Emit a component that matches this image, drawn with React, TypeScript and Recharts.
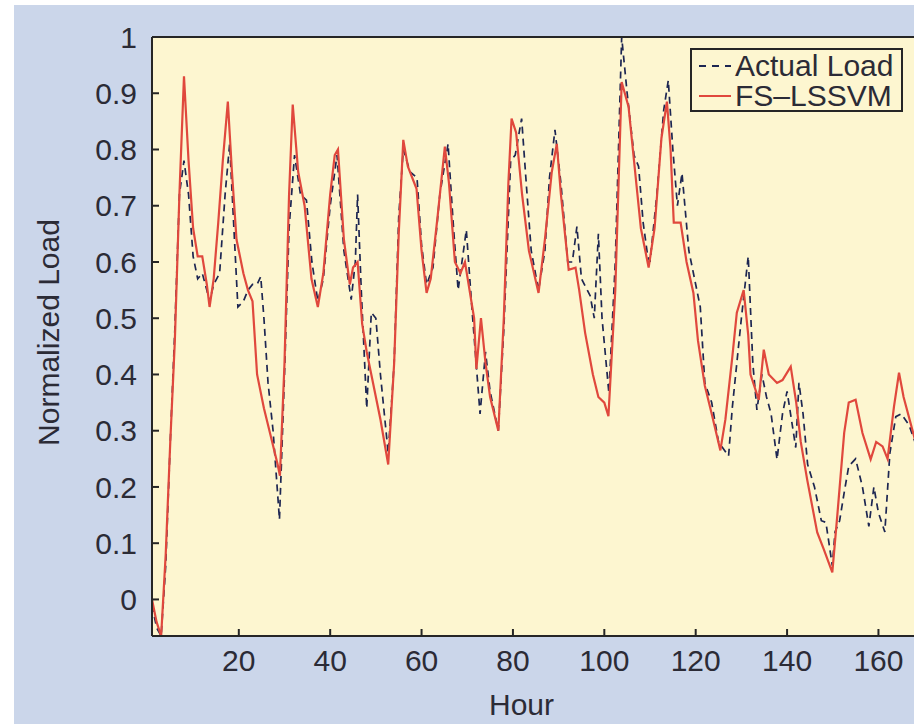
import React from "react";
import { LineChart, Line, XAxis, YAxis, CartesianGrid, Legend } from "recharts";

// hour / value pairs (key points of each curve)
const actualHours = [
  1, 2, 3, 4, 5, 6, 7, 8, 9, 10, 11, 12, 13, 13.6, 14.5, 15.8, 17, 18, 18.8, 19.8,
  21, 22, 23, 24, 24.8, 25.5, 26.4, 27.5, 28.9, 30, 31, 32.2, 33.5, 34.8, 36, 37.3,
  38.5, 40, 41.5, 43, 44.6, 45.5, 46, 46.8, 48, 49, 50, 51, 52.7, 54, 55, 56, 57.5,
  59, 60, 61.1, 62.5, 64, 65.8, 67, 68, 69.8, 71, 72.8, 74, 75, 76.8, 78, 79.5, 80.5,
  81.9, 83, 84, 85.6, 87, 88, 89.2, 90.5, 92, 93, 94, 95, 96.9, 97.8, 98.7, 99.5, 101,
  102.4, 103.8, 105, 106.5, 107.5, 108.5, 109.5, 110, 111.5, 113, 114, 115, 116, 117,
  118.5, 120, 121, 122, 123.5, 125, 127.2, 128, 130, 131.5, 132.5, 133.4, 134.5,
  135.5, 136.5, 137.8, 139, 140, 141.9, 142.6, 143.5, 144.5, 146, 147.5, 148.5, 149.9,
  150.5, 151.5, 152.5, 153.5, 155, 156.5, 157.9, 159, 160, 161.4, 162.5, 163.8, 165,
  166.7, 168,
];
const actualLoad = [
  -0.01, -0.05, -0.065, 0.06, 0.28, 0.48, 0.72, 0.78, 0.72, 0.61, 0.57, 0.58, 0.55,
  0.53, 0.56, 0.58, 0.72, 0.81, 0.68, 0.52, 0.53, 0.55, 0.56, 0.56, 0.574, 0.5, 0.385,
  0.3, 0.142, 0.4, 0.66, 0.79, 0.72, 0.71, 0.6, 0.53, 0.57, 0.7, 0.79, 0.62, 0.533,
  0.6, 0.72, 0.55, 0.34, 0.51, 0.5, 0.4, 0.26, 0.42, 0.68, 0.8, 0.76, 0.75, 0.63,
  0.56, 0.59, 0.72, 0.81, 0.66, 0.55, 0.657, 0.52, 0.33, 0.44, 0.37, 0.3, 0.48, 0.78,
  0.79, 0.855, 0.73, 0.62, 0.55, 0.62, 0.75, 0.835, 0.74, 0.6, 0.6, 0.663, 0.57, 0.54,
  0.5, 0.65, 0.5, 0.367, 0.6, 1.0, 0.9, 0.79, 0.77, 0.67, 0.61, 0.6, 0.72, 0.87,
  0.923, 0.8, 0.7, 0.758, 0.62, 0.56, 0.52, 0.385, 0.35, 0.28, 0.255, 0.34, 0.5, 0.61,
  0.42, 0.337, 0.4, 0.36, 0.33, 0.249, 0.33, 0.37, 0.27, 0.385, 0.33, 0.24, 0.2, 0.14,
  0.137, 0.06, 0.12, 0.14, 0.19, 0.237, 0.25, 0.2, 0.13, 0.2, 0.154, 0.12, 0.26, 0.325,
  0.33, 0.31, 0.28,
];

const forecastHours = [
  1, 2, 3, 4, 5, 6, 7, 8, 9, 10, 11, 12, 13, 13.6, 14.5, 15.5, 16.5, 17.6, 18.5, 19.5,
  21, 22, 23, 24, 25.5, 27, 28.5, 29, 30, 31, 31.8, 33, 34.4, 35.9, 37.3, 38.5, 40, 41,
  41.7, 43, 44.3, 45, 46, 47, 48, 49, 51, 52.7, 54, 55, 56, 57, 58.9, 60, 61.1, 62,
  63.5, 65.1, 66, 67.3, 68.5, 69.5, 70.5, 71.5, 72, 73, 74, 75, 76.8, 78, 79, 79.7,
  80.7, 82, 83.5, 85.6, 87, 88.5, 89.6, 90.5, 92.2, 93.7, 94.5, 95.8, 97.5, 98.7, 100,
  100.9, 102.4, 103.8, 105.3, 106.5, 108, 109.7, 111, 112.5, 113.7, 114.5, 115.2,
  116.7, 118, 119.5, 120.5, 122, 123.5, 125.4, 126.5, 128, 129, 130.5, 131.5, 132,
  133.8, 134.9, 136, 137.8, 139, 140.8, 142, 143, 144.4, 146.6, 148, 149.9, 151, 152.5,
  153.5, 155, 156.5, 158.3, 159.5, 160.9, 162, 163.4, 164.5, 165.5, 168,
];
const forecastLoad = [
  0.0, -0.04, -0.065, 0.08, 0.28, 0.46, 0.72, 0.93, 0.78, 0.66, 0.61, 0.61, 0.56, 0.52,
  0.57, 0.67, 0.78, 0.885, 0.76, 0.64, 0.58, 0.55, 0.53, 0.4, 0.34, 0.29, 0.24, 0.22,
  0.42, 0.72, 0.88, 0.76, 0.7, 0.57, 0.52, 0.58, 0.72, 0.79, 0.8, 0.64, 0.56, 0.59, 0.6,
  0.49, 0.44, 0.4, 0.32, 0.24, 0.42, 0.65, 0.817, 0.77, 0.73, 0.62, 0.545, 0.57, 0.68,
  0.805, 0.74, 0.6, 0.58, 0.6, 0.55, 0.5, 0.41, 0.5, 0.42, 0.36, 0.3, 0.5, 0.74, 0.855,
  0.83, 0.72, 0.62, 0.545, 0.64, 0.76, 0.81, 0.72, 0.586, 0.59, 0.55, 0.474, 0.4, 0.36,
  0.35, 0.326, 0.55, 0.92, 0.876, 0.78, 0.66, 0.59, 0.66, 0.82, 0.885, 0.8, 0.67, 0.67,
  0.6, 0.545, 0.46, 0.38, 0.33, 0.265, 0.32, 0.43, 0.51, 0.55, 0.47, 0.4, 0.355, 0.444,
  0.4, 0.385, 0.39, 0.414, 0.35, 0.28, 0.213, 0.119, 0.09, 0.048, 0.15, 0.296, 0.35,
  0.355, 0.296, 0.249, 0.28, 0.272, 0.25, 0.343, 0.403, 0.36, 0.284,
];

const xTicks = [20, 40, 60, 80, 100, 120, 140, 160];
const yTicks = [0, 0.1, 0.2, 0.3, 0.4, 0.5, 0.6, 0.7, 0.8, 0.9, 1];

const actualData = actualHours.map((h, i) => ({ hour: h, load: actualLoad[i] }));
const forecastData = forecastHours.map((h, i) => ({ hour: h, load: forecastLoad[i] }));

const FONT = '"Liberation Sans", Arial, sans-serif';
const TEXT = "#2b2b36";
const AXIS = "#262626";
const PLOT_BG = "#fdf6d0";
const ACTUAL = "#1d2652";
const FORECAST = "#e0483d";

const tickStyle = { fontSize: 30, fill: TEXT, fontFamily: FONT };

const YTitle = (props: any) => {
  const { x, y, height } = props.viewBox;
  const cx = x + 34;
  const cy = y + height / 2 - 4;
  return (
    <text
      x={cx}
      y={cy}
      transform={`rotate(-90, ${cx}, ${cy})`}
      textAnchor="middle"
      dominantBaseline="central"
      fontSize={30}
      fontFamily={FONT}
      fill={TEXT}
    >
      Normalized Load
    </text>
  );
};

const XTitle = (props: any) => {
  const { x, y, width, height } = props.viewBox;
  return (
    <text
      x={x + width / 2 - 12}
      y={y + height - 9}
      textAnchor="middle"
      fontSize={30}
      fontFamily={FONT}
      fill={TEXT}
    >
      Hour
    </text>
  );
};

const LegendBox = () => (
  <div
    style={{
      boxSizing: "border-box",
      width: 213,
      height: 64,
      border: `2px solid ${AXIS}`,
      background: PLOT_BG,
      fontFamily: FONT,
      fontSize: 30,
      color: TEXT,
      paddingTop: 1,
    }}
  >
    {[
      { name: "Actual Load", color: ACTUAL, dash: "7 6" },
      { name: "FS\u2013LSSVM", color: FORECAST, dash: undefined },
    ].map((item) => (
      <div key={item.name} style={{ display: "flex", alignItems: "center", height: 30, lineHeight: "30px" }}>
        <svg width={43} height={30} style={{ flex: "none" }}>
          <line
            x1={7}
            x2={39}
            y1={15}
            y2={15}
            stroke={item.color}
            strokeWidth={2}
            strokeDasharray={item.dash}
          />
        </svg>
        <span style={{ whiteSpace: "nowrap" }}>{item.name}</span>
      </div>
    ))}
  </div>
);

export default function App() {
  return (
    <div
      style={{
        position: "absolute",
        left: 14,
        top: 5,
        width: 900,
        height: 719,
        background: "#cbd6ea",
        overflow: "hidden",
      }}
    >
      <LineChart width={905} height={719} margin={{ top: 2, right: 4, bottom: 0, left: 0 }}>
        <CartesianGrid horizontal={false} vertical={false} stroke="none" fill={PLOT_BG} />
        <XAxis
          xAxisId="bottom"
          dataKey="hour"
          type="number"
          domain={[1, 168]}
          ticks={xTicks}
          allowDataOverflow
          height={88}
          stroke={AXIS}
          strokeWidth={2}
          tickSize={-7}
          tickMargin={21}
          tick={tickStyle}
          label={XTitle}
        />
        <XAxis
          xAxisId="top"
          orientation="top"
          dataKey="hour"
          type="number"
          domain={[1, 168]}
          ticks={xTicks}
          allowDataOverflow
          height={30}
          stroke={AXIS}
          strokeWidth={2}
          tickSize={-7}
          tick={false}
        />
        <YAxis
          yAxisId="left"
          type="number"
          domain={[-0.065, 1]}
          ticks={yTicks}
          allowDataOverflow
          width={138}
          stroke={AXIS}
          strokeWidth={2}
          tickSize={-7}
          tickMargin={22}
          tick={tickStyle}
          tickFormatter={(v: number) => String(v)}
          label={YTitle}
        />
        <YAxis
          yAxisId="right"
          orientation="right"
          type="number"
          domain={[-0.065, 1]}
          ticks={yTicks}
          allowDataOverflow
          width={0}
          stroke={AXIS}
          strokeWidth={2}
          tickSize={-7}
          tick={false}
        />
        <Legend
          layout="horizontal"
          verticalAlign="middle"
          align="center"
          wrapperStyle={{ top: 43, left: 676, width: 213 }}
          content={LegendBox}
        />
        <Line
          xAxisId="bottom"
          yAxisId="left"
          data={actualData}
          dataKey="load"
          name="Actual Load"
          type="linear"
          stroke={ACTUAL}
          strokeWidth={1.7}
          strokeDasharray="7 5"
          dot={false}
          activeDot={false}
          isAnimationActive={false}
        />
        <Line
          xAxisId="bottom"
          yAxisId="left"
          data={forecastData}
          dataKey="load"
          name="FS-LSSVM"
          type="linear"
          stroke={FORECAST}
          strokeWidth={2.2}
          dot={false}
          activeDot={false}
          isAnimationActive={false}
        />
      </LineChart>
    </div>
  );
}
